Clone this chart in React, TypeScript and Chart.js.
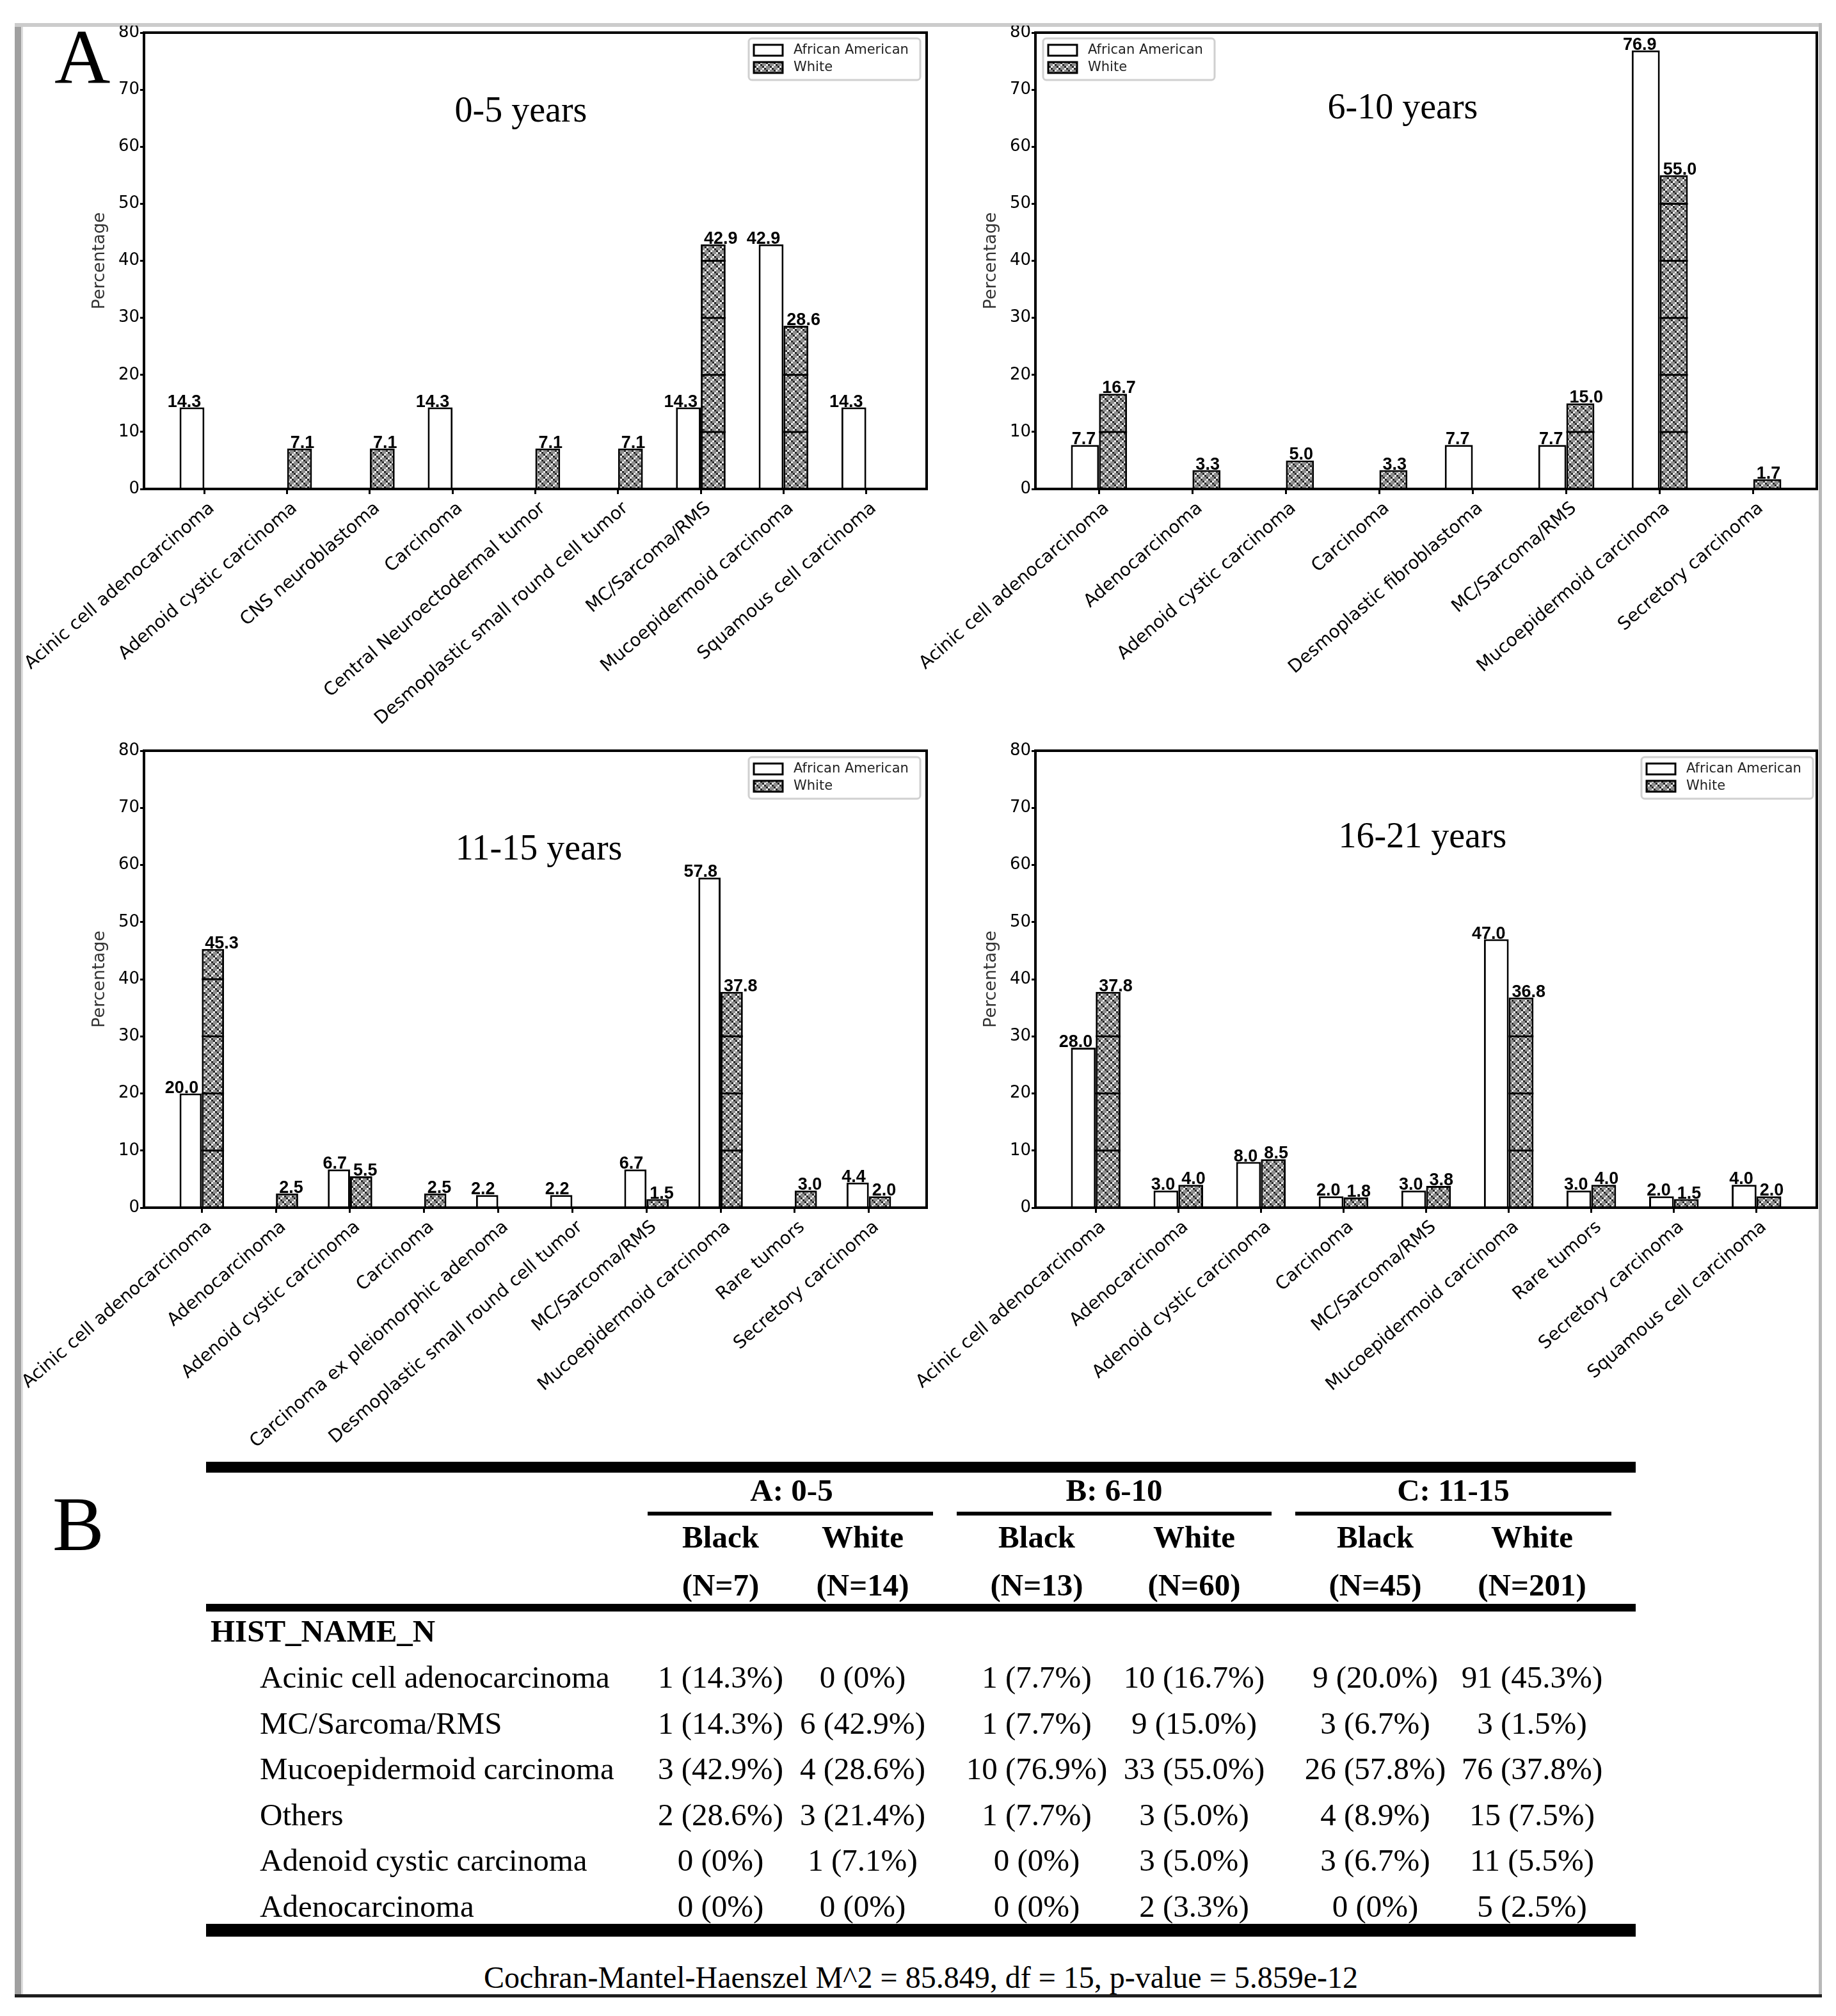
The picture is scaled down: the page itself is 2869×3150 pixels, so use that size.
import React, { useEffect, useRef } from 'react';
import { Chart, registerables } from 'chart.js';

Chart.register(...registerables);

const SANS = '"DejaVu Sans", Verdana, sans-serif';
const ARIAL = '"Liberation Sans", Arial, sans-serif';
const SERIF = '"Liberation Serif", "Times New Roman", serif';

// ---------- chart data ----------
const SERIES = ['African American', 'White'];

const cats05 = ['Acinic cell adenocarcinoma', 'Adenoid cystic carcinoma', 'CNS neuroblastoma', 'Carcinoma', 'Central Neuroectodermal tumor', 'Desmoplastic small round cell tumor', 'MC/Sarcoma/RMS', 'Mucoepidermoid carcinoma', 'Squamous cell carcinoma'];
const aa05 = [14.3, 0, 0, 14.3, 0, 0, 14.3, 42.9, 14.3];
const wh05 = [0, 7.1, 7.1, 0, 7.1, 7.1, 42.9, 28.6, 0];

const cats610 = ['Acinic cell adenocarcinoma', 'Adenocarcinoma', 'Adenoid cystic carcinoma', 'Carcinoma', 'Desmoplastic fibroblastoma', 'MC/Sarcoma/RMS', 'Mucoepidermoid carcinoma', 'Secretory carcinoma'];
const aa610 = [7.7, 0, 0, 0, 7.7, 7.7, 76.9, 0];
const wh610 = [16.7, 3.3, 5.0, 3.3, 0, 15.0, 55.0, 1.7];

const cats1115 = ['Acinic cell adenocarcinoma', 'Adenocarcinoma', 'Adenoid cystic carcinoma', 'Carcinoma', 'Carcinoma ex pleiomorphic adenoma', 'Desmoplastic small round cell tumor', 'MC/Sarcoma/RMS', 'Mucoepidermoid carcinoma', 'Rare tumors', 'Secretory carcinoma'];
const aa1115 = [20.0, 0, 6.7, 0, 2.2, 2.2, 6.7, 57.8, 0, 4.4];
const wh1115 = [45.3, 2.5, 5.5, 2.5, 0, 0, 1.5, 37.8, 3.0, 2.0];

const cats1621 = ['Acinic cell adenocarcinoma', 'Adenocarcinoma', 'Adenoid cystic carcinoma', 'Carcinoma', 'MC/Sarcoma/RMS', 'Mucoepidermoid carcinoma', 'Rare tumors', 'Secretory carcinoma', 'Squamous cell carcinoma'];
const aa1621 = [28.0, 3.0, 8.0, 2.0, 3.0, 47.0, 3.0, 2.0, 4.0];
const wh1621 = [37.8, 4.0, 8.5, 1.8, 3.8, 36.8, 4.0, 1.5, 2.0];

const Y_MIN = 0;
const Y_MAX = 80;
const Y_STEP = 10;

// ---------- table data ----------
const groupHeads = ['A: 0-5', 'B: 6-10', 'C: 11-15'];
const colHeads = ['Black', 'White', 'Black', 'White', 'Black', 'White'];
const colNs = ['(N=7)', '(N=14)', '(N=13)', '(N=60)', '(N=45)', '(N=201)'];
const rowNames = ['Acinic cell adenocarcinoma', 'MC/Sarcoma/RMS', 'Mucoepidermoid carcinoma', 'Others', 'Adenoid cystic carcinoma', 'Adenocarcinoma'];
const rowAcinic = ['1 (14.3%)', '0 (0%)', '1 (7.7%)', '10 (16.7%)', '9 (20.0%)', '91 (45.3%)'];
const rowMC = ['1 (14.3%)', '6 (42.9%)', '1 (7.7%)', '9 (15.0%)', '3 (6.7%)', '3 (1.5%)'];
const rowMuco = ['3 (42.9%)', '4 (28.6%)', '10 (76.9%)', '33 (55.0%)', '26 (57.8%)', '76 (37.8%)'];
const rowOthers = ['2 (28.6%)', '3 (21.4%)', '1 (7.7%)', '3 (5.0%)', '4 (8.9%)', '15 (7.5%)'];
const rowAdenoid = ['0 (0%)', '1 (7.1%)', '0 (0%)', '3 (5.0%)', '3 (6.7%)', '11 (5.5%)'];
const rowAdeno = ['0 (0%)', '0 (0%)', '0 (0%)', '2 (3.3%)', '0 (0%)', '5 (2.5%)'];
const tableRows = [rowAcinic, rowMC, rowMuco, rowOthers, rowAdenoid, rowAdeno];
const caption = 'Cochran-Mantel-Haenszel M^2 = 85.849, df = 15, p-value = 5.859e-12';

// ---------- layout (page pixels) ----------
type Panel = {
  title: string; cats: string[]; aa: number[]; wh: number[];
  box: { x: number; y: number; w: number; h: number };
  plot: { l: number; t: number; r: number; b: number };
  titleAt: [number, number]; legendAt: [number, number]; yTitleX: number;
};

const PANELS: Panel[] = [
  { title: '0-5 years', cats: cats05, aa: aa05, wh: wh05,
    box: { x: 36, y: 40, w: 1424, h: 1120 }, plot: { l: 225, t: 51, r: 1448, b: 764 },
    titleAt: [814, 190], legendAt: [1170, 60], yTitleX: 156 },
  { title: '6-10 years', cats: cats610, aa: aa610, wh: wh610,
    box: { x: 1420, y: 40, w: 1426, h: 1120 }, plot: { l: 1618, t: 51, r: 2839, b: 764 },
    titleAt: [2192, 185], legendAt: [1630, 60], yTitleX: 1549 },
  { title: '11-15 years', cats: cats1115, aa: aa1115, wh: wh1115,
    box: { x: 36, y: 1160, w: 1424, h: 1120 }, plot: { l: 225, t: 1173, r: 1448, b: 1887 },
    titleAt: [842, 1343], legendAt: [1170, 1183], yTitleX: 156 },
  { title: '16-21 years', cats: cats1621, aa: aa1621, wh: wh1621,
    box: { x: 1420, y: 1160, w: 1426, h: 1120 }, plot: { l: 1618, t: 1173, r: 2839, b: 1887 },
    titleAt: [2223, 1324], legendAt: [2565, 1183], yTitleX: 1549 },
];

const BAR_W = 0.3;

function makeHatch(ctx: CanvasRenderingContext2D): CanvasPattern {
  const t = document.createElement('canvas');
  const cell = 3;
  t.width = cell * 4;
  t.height = cell * 4;
  const c = t.getContext('2d')!;
  const grid = ['DGGW', 'GDWG', 'GWDG', 'WGGD'];
  const col: Record<string, string> = { W: '#ededed', G: '#8e8e8e', D: '#262626' };
  grid.forEach((row, r) => {
    row.split('').forEach((ch, k) => {
      c.fillStyle = col[ch];
      c.fillRect(k * cell, r * cell, cell, cell);
    });
  });
  return ctx.createPattern(t, 'repeat')!;
}

function zeroPad(s: any) {
  s.paddingLeft = 0;
  s.paddingRight = 0;
  s.paddingTop = 0;
  s.paddingBottom = 0;
}

function BarPanel({ p }: { p: Panel }) {
  const ref = useRef<HTMLCanvasElement>(null);
  useEffect(() => {
    const canvas = ref.current!;
    const ctx0 = canvas.getContext('2d')!;
    const hatch = makeHatch(ctx0);
    const n = p.cats.length;
    const pad = BAR_W + 0.05 * (n - 1 + 2 * BAR_W);
    const yW = p.plot.l - p.box.x;
    const xH = p.box.y + p.box.h - p.plot.b;
    const tickFont = { family: SANS, size: 26 };
    const yTitleFont = { family: SANS, size: 27 };
    const titlePadTop = p.yTitleX - p.box.x - (27 * 1.2) / 2;

    const decor = {
      id: 'decor',
      afterDatasetsDraw(chart: any) {
        const ctx: CanvasRenderingContext2D = chart.ctx;
        const ys = chart.scales.y;
        ctx.save();
        ctx.strokeStyle = '#000';
        ctx.lineWidth = 3;
        chart.getDatasetMeta(1).data.forEach((el: any, i: number) => {
          const v = p.wh[i];
          if (!(v > 0)) return;
          for (let g = Y_STEP; g < v; g += Y_STEP) {
            const py = ys.getPixelForValue(g);
            ctx.beginPath();
            ctx.moveTo(el.x - el.width / 2, py);
            ctx.lineTo(el.x + el.width / 2, py);
            ctx.stroke();
          }
        });
        ctx.font = `bold 27px ${ARIAL}`;
        ctx.fillStyle = '#000';
        ctx.textBaseline = 'alphabetic';
        [p.aa, p.wh].forEach((vals, di) => {
          chart.getDatasetMeta(di).data.forEach((el: any, i: number) => {
            const v = vals[i];
            if (!(v > 0)) return;
            if (di === 0) {
              ctx.textAlign = 'right';
              ctx.fillText(v.toFixed(1), el.x + el.width / 2 - 5, el.y - 1);
            } else {
              ctx.textAlign = 'left';
              ctx.fillText(v.toFixed(1), el.x - el.width / 2 + 5, el.y - 1);
            }
          });
        });
        ctx.restore();
      },
      afterDraw(chart: any) {
        const ctx: CanvasRenderingContext2D = chart.ctx;
        const a = chart.chartArea;
        ctx.save();
        ctx.strokeStyle = '#000';
        ctx.lineWidth = 4;
        ctx.strokeRect(a.left, a.top, a.right - a.left, a.bottom - a.top);
        // title
        ctx.font = `56px ${SERIF}`;
        ctx.textAlign = 'center';
        ctx.textBaseline = 'alphabetic';
        ctx.fillStyle = '#000';
        ctx.fillText(p.title, p.titleAt[0] - p.box.x, p.titleAt[1] - p.box.y);
        // legend
        const lx = p.legendAt[0] - p.box.x;
        const ly = p.legendAt[1] - p.box.y;
        ctx.fillStyle = 'rgba(255,255,255,0.85)';
        ctx.strokeStyle = '#d0d0d0';
        ctx.lineWidth = 3;
        ctx.beginPath();
        (ctx as any).roundRect(lx, ly, 268, 65, 5);
        ctx.fill();
        ctx.stroke();
        chart.data.datasets.forEach((ds: any, k: number) => {
          const cy = ly + 18 + k * 27;
          ctx.fillStyle = ds.backgroundColor;
          ctx.fillRect(lx + 8, cy - 8, 45, 17);
          ctx.strokeStyle = '#000';
          ctx.lineWidth = 3;
          ctx.strokeRect(lx + 8, cy - 8, 45, 17);
          ctx.fillStyle = '#222';
          ctx.font = `21px ${SANS}`;
          ctx.textAlign = 'left';
          ctx.textBaseline = 'middle';
          ctx.fillText(ds.label, lx + 70, cy + 1);
        });
        ctx.restore();
      },
    };

    const chart = new Chart(canvas, {
      type: 'bar',
      data: {
        datasets: [
          {
            label: SERIES[0],
            data: p.aa.map((v, i) => ({ x: i, y: v > 0 ? v : null })) as any,
            backgroundColor: '#ffffff',
            borderColor: '#000000',
            borderWidth: 3,
            categoryPercentage: 0.6,
            barPercentage: 1.0,
          },
          {
            label: SERIES[1],
            data: p.wh.map((v, i) => ({ x: i, y: v > 0 ? v : null })) as any,
            backgroundColor: hatch as any,
            borderColor: '#000000',
            borderWidth: 3,
            categoryPercentage: 0.6,
            barPercentage: 1.0,
          },
        ],
      },
      options: {
        responsive: false,
        animation: false,
        devicePixelRatio: 1,
        events: [],
        layout: {
          autoPadding: false,
          padding: { top: p.plot.t - p.box.y, right: p.box.x + p.box.w - p.plot.r, left: 0, bottom: 0 },
        } as any,
        plugins: { legend: { display: false }, tooltip: { enabled: false }, title: { display: false } },
        scales: {
          x: {
            type: 'linear',
            bounds: 'data',
            offset: false,
            min: -pad,
            max: n - 1 + pad,
            afterBuildTicks: (s: any) => { s.ticks = p.cats.map((_, i) => ({ value: i })); },
            afterFit: (s: any) => { s.height = xH; zeroPad(s); },
            ticks: {
              autoSkip: false,
              minRotation: 41,
              maxRotation: 41,
              padding: 6,
              labelOffset: 12,
              color: '#000',
              font: { family: SANS, size: 28 },
              callback: (v: any) => p.cats[v as number] ?? '',
            },
            grid: { display: true, drawOnChartArea: false, drawTicks: true, tickLength: 8, color: '#000', lineWidth: 3, offset: false },
            border: { display: false },
          } as any,
          y: {
            min: Y_MIN,
            max: Y_MAX,
            afterFit: (s: any) => { s.width = yW; zeroPad(s); },
            ticks: { stepSize: Y_STEP, padding: 1, color: '#000', font: tickFont },
            grid: { display: true, drawOnChartArea: false, drawTicks: true, tickLength: 6, color: '#000', lineWidth: 3 },
            border: { display: false },
            title: { display: true, text: 'Percentage', color: '#333', font: yTitleFont, padding: { top: titlePadTop, bottom: 0 } },
          } as any,
        },
      },
      plugins: [decor as any],
    });
    return () => chart.destroy();
  }, [p]);
  return (
    <canvas
      ref={ref}
      width={p.box.w}
      height={p.box.h}
      style={{ position: 'absolute', left: p.box.x, top: p.box.y, width: p.box.w, height: p.box.h }}
    />
  );
}

function Txt({ x, y, size, bold, center, children }: { x: number; y: number; size: number; bold?: boolean; center?: boolean; children: React.ReactNode }) {
  return (
    <div
      style={{
        position: 'absolute',
        left: x,
        top: y - 0.8375 * size,
        fontFamily: SERIF,
        fontSize: size,
        fontWeight: bold ? 700 : 400,
        lineHeight: `${size}px`,
        whiteSpace: 'nowrap',
        color: '#000',
        transform: center ? 'translateX(-50%)' : undefined,
      }}
    >
      {children}
    </div>
  );
}

function Rule({ x1, x2, y1, y2, color = '#000' }: { x1: number; x2: number; y1: number; y2: number; color?: string }) {
  return <div style={{ position: 'absolute', left: x1, top: y1, width: x2 - x1, height: y2 - y1, background: color }} />;
}

const COL_X = [1126, 1348, 1620, 1866, 2149, 2394];
const GROUP_X = [1237, 1741, 2271];
const GROUP_LINES: [number, number][] = [[1012, 1458], [1495, 1987], [2024, 2518]];
const ROW_Y = [2637, 2709, 2780, 2852, 2923, 2995];
const TS = 49;

export default function App() {
  return (
    <div style={{ position: 'absolute', left: 0, top: 0, width: 2869, height: 3150, background: '#fff', overflow: 'hidden' }}>
      {/* outer frame */}
      <Rule x1={23} x2={33} y1={36} y2={3121} color="#a0a0a0" />
      <Rule x1={33} x2={36} y1={42} y2={3116} color="#dcdcdc" />
      <Rule x1={23} x2={2847} y1={36} y2={42} color="#cccccc" />
      <Rule x1={2842} x2={2847} y1={36} y2={3121} color="#b8b8b8" />
      <Rule x1={23} x2={2847} y1={3116} y2={3121} color="#1e1e1e" />

      {PANELS.map((p, i) => <BarPanel key={i} p={p} />)}

      <Txt x={85} y={130} size={121}>A</Txt>
      <Txt x={82} y={2422} size={121}>B</Txt>

      {/* table */}
      <Rule x1={322} x2={2556} y1={2284} y2={2301} />
      {groupHeads.map((g, i) => <Txt key={g} x={GROUP_X[i]} y={2345} size={TS} bold center>{g}</Txt>)}
      {GROUP_LINES.map(([a, b], i) => <Rule key={i} x1={a} x2={b} y1={2362} y2={2368} />)}
      {colHeads.map((h, i) => <Txt key={'h' + i} x={COL_X[i]} y={2418} size={TS} bold center>{h}</Txt>)}
      {colNs.map((h, i) => <Txt key={'n' + i} x={COL_X[i]} y={2493} size={TS} bold center>{h}</Txt>)}
      <Rule x1={322} x2={2556} y1={2506} y2={2518} />
      <Txt x={329} y={2565} size={TS} bold>HIST_NAME_N</Txt>
      {rowNames.map((name, r) => (
        <React.Fragment key={name}>
          <Txt x={406} y={ROW_Y[r]} size={TS}>{name}</Txt>
          {tableRows[r].map((cell, c) => <Txt key={c} x={COL_X[c]} y={ROW_Y[r]} size={TS} center>{cell}</Txt>)}
        </React.Fragment>
      ))}
      <Rule x1={322} x2={2556} y1={3006} y2={3026} />
      <Txt x={1439} y={3106} size={48} center>{caption}</Txt>
    </div>
  );
}
